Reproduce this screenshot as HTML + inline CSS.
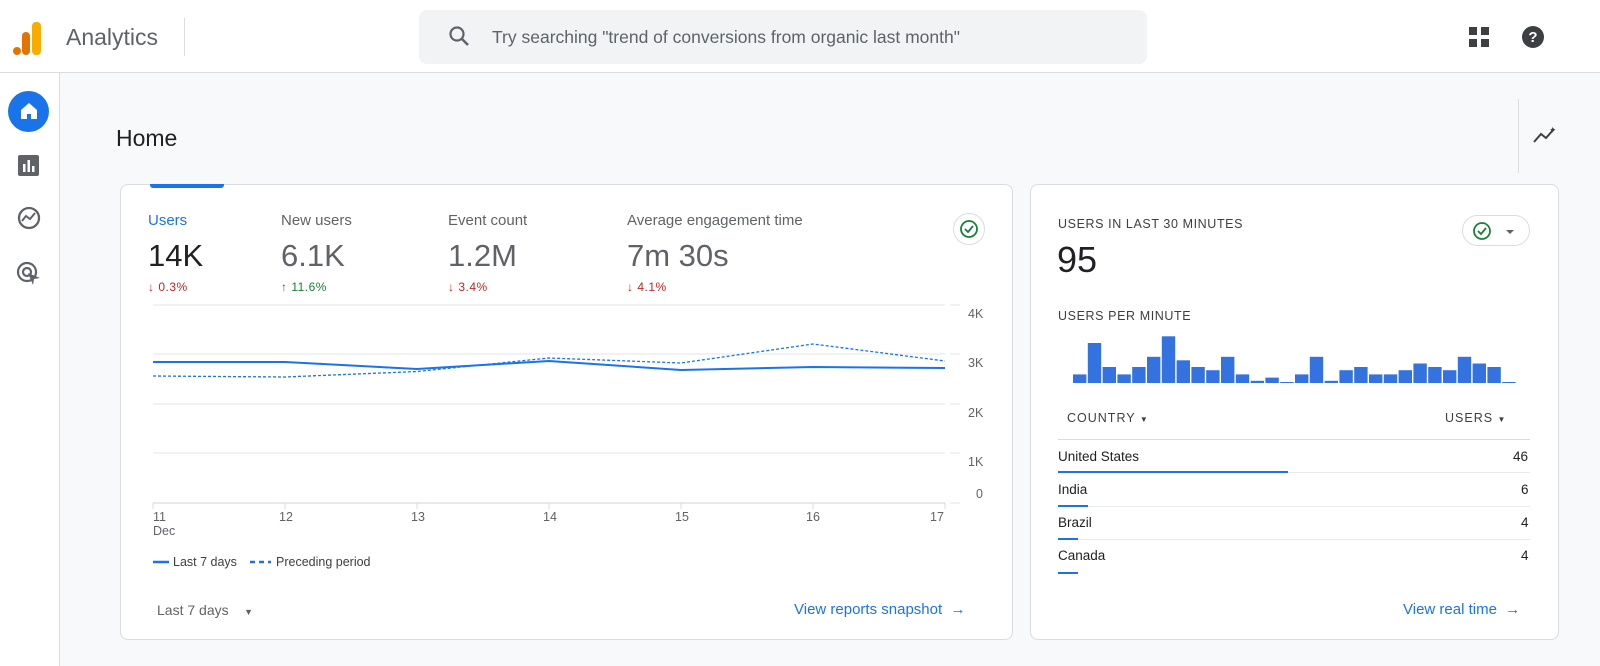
<!DOCTYPE html>
<html><head><meta charset="utf-8"><style>
*{margin:0;padding:0;box-sizing:border-box}
body{width:1600px;height:666px;overflow:hidden;background:#f8f9fa;font-family:"Liberation Sans",sans-serif;position:relative;color:#202124}
.a{position:absolute;white-space:nowrap}
.card{position:absolute;background:#fff;border:1px solid #dadce0;border-radius:8px}
.lbl{font-size:15px;color:#5f6368}
.big{font-size:31px;color:#5f6368}
.red{color:#c5221f;font-size:12px;letter-spacing:.5px}
.grn{color:#188038;font-size:12px;letter-spacing:.5px}
.cap{font-size:12.5px;color:#3c4043;letter-spacing:.6px}
.row{font-size:13.5px;color:#202124}
</style></head><body>
<div class="a" style="left:0;top:0;width:1600px;height:73px;background:#fff;border-bottom:1px solid #dadce0"></div>
<svg class="a" style="left:12px;top:18px" width="34" height="38"><rect x="20" y="4" width="9" height="33" rx="4" fill="#f9ab00"/><rect x="10" y="14" width="8" height="23" rx="4" fill="#e37400"/><circle cx="5" cy="33" r="4" fill="#e37400"/></svg>
<div class="a" style="left:66px;top:24px;font-size:23px;color:#5f6368">Analytics</div>
<div class="a" style="left:184px;top:18px;width:1px;height:38px;background:#dadce0"></div>
<div class="a" style="left:419px;top:10px;width:728px;height:54px;background:#f1f3f4;border-radius:8px"></div>
<svg class="a" style="left:448px;top:25px" width="24" height="24"><circle cx="9" cy="9" r="6.5" stroke="#5f6368" stroke-width="2.2" fill="none"/><line x1="14" y1="14" x2="20" y2="20" stroke="#5f6368" stroke-width="2.5"/></svg>
<div class="a" style="left:492px;top:27px;font-size:17.5px;color:#5f6368">Try searching "trend of conversions from organic last month"</div>
<svg class="a" style="left:1469px;top:27px" width="22" height="22" fill="#3c4043"><rect x="0" y="0" width="8" height="8"/><rect x="12" y="0" width="8" height="8"/><rect x="0" y="12" width="8" height="8"/><rect x="12" y="12" width="8" height="8"/></svg>
<svg class="a" style="left:1521px;top:25px" width="24" height="24"><circle cx="12" cy="12" r="11" fill="#3c4043"/><text x="12" y="17" font-size="15" font-weight="bold" text-anchor="middle" fill="#fff" font-family="Liberation Sans">?</text></svg>
<div class="a" style="left:0;top:73px;width:60px;height:593px;background:#fff;border-right:1px solid #dadce0"></div>
<div class="a" style="left:8px;top:91px;width:41px;height:41px;border-radius:50%;background:#1a73e8"></div>
<svg class="a" style="left:17px;top:99px" width="24" height="24"><path d="M4 11 L12 4 L20 11 V20 H14 V15 H10 V20 H4 Z" fill="#fff"/></svg>
<svg class="a" style="left:18px;top:155px" width="22" height="22"><rect x="0" y="0" width="21" height="21" rx="2" fill="#5f6368"/><rect x="5" y="9" width="2.5" height="8" fill="#fff"/><rect x="9.5" y="5" width="2.5" height="12" fill="#fff"/><rect x="14" y="11" width="2.5" height="6" fill="#fff"/></svg>
<svg class="a" style="left:16px;top:205px" width="26" height="26"><circle cx="13" cy="13" r="10" stroke="#5f6368" stroke-width="2.3" fill="none"/><path d="M6 16 L10 11 L14 14 L19 8" stroke="#5f6368" stroke-width="2" fill="none"/></svg>
<svg class="a" style="left:16px;top:261px" width="26" height="26"><circle cx="11" cy="11" r="9" stroke="#5f6368" stroke-width="2.2" fill="none"/><circle cx="11" cy="11" r="4" stroke="#5f6368" stroke-width="2.2" fill="none"/><path d="M12 12 L24 17 L18 18 L17 24 Z" fill="#5f6368"/></svg>
<div class="a" style="left:116px;top:125px;font-size:23px;color:#202124">Home</div>
<div class="a" style="left:1518px;top:99px;width:1px;height:74px;background:#dadce0"></div>
<svg class="a" style="left:1532px;top:124px" width="26" height="22"><path d="M2 18 L9 10 L14 14 L22 5" stroke="#3c4043" stroke-width="2" fill="none"/><text x="17" y="9" font-size="9" fill="#3c4043">✦</text></svg>

<div class="card" style="left:120px;top:184px;width:893px;height:456px"></div>
<div class="a" style="left:150px;top:184px;width:74px;height:4px;background:#1a73e8;border-radius:0 0 3px 3px"></div>
<div class="a lbl" style="left:148px;top:212px;color:#1a73e8">Users</div>
<div class="a big" style="left:148px;top:238px;color:#202124">14K</div>
<div class="a red" style="left:148px;top:280px">↓ 0.3%</div>
<div class="a lbl" style="left:281px;top:212px">New users</div>
<div class="a big" style="left:281px;top:238px">6.1K</div>
<div class="a grn" style="left:281px;top:280px">↑ 11.6%</div>
<div class="a lbl" style="left:448px;top:212px">Event count</div>
<div class="a big" style="left:448px;top:238px">1.2M</div>
<div class="a red" style="left:448px;top:280px">↓ 3.4%</div>
<div class="a lbl" style="left:627px;top:212px">Average engagement time</div>
<div class="a big" style="left:627px;top:238px">7m 30s</div>
<div class="a red" style="left:627px;top:280px">↓ 4.1%</div>
<svg class="a" style="left:952px;top:212px" width="34" height="34"><circle cx="17" cy="17" r="15.5" fill="#fff" stroke="#dadce0"/><circle cx="17" cy="17" r="8" fill="none" stroke="#188038" stroke-width="1.8"/><path d="M13 17 L16 20 L21 14" stroke="#188038" stroke-width="1.8" fill="none"/></svg>

<svg class="a" style="left:0;top:0" width="1600" height="666">
<g stroke="#e8eaed" stroke-width="1.2">
<line x1="153" y1="305" x2="945" y2="305"/><line x1="153" y1="354" x2="945" y2="354"/><line x1="153" y1="404" x2="945" y2="404"/><line x1="153" y1="453" x2="945" y2="453"/>
<line x1="950" y1="305" x2="960" y2="305"/><line x1="950" y1="354" x2="960" y2="354"/><line x1="950" y1="404" x2="960" y2="404"/><line x1="950" y1="453" x2="960" y2="453"/><line x1="950" y1="503" x2="960" y2="503"/>
</g>
<line x1="153" y1="503" x2="945" y2="503" stroke="#dadce0" stroke-width="1.2"/>
<g stroke="#dadce0"><line x1="153" y1="503" x2="153" y2="509"/><line x1="285" y1="503" x2="285" y2="509"/><line x1="417" y1="503" x2="417" y2="509"/><line x1="549" y1="503" x2="549" y2="509"/><line x1="681" y1="503" x2="681" y2="509"/><line x1="813" y1="503" x2="813" y2="509"/><line x1="945" y1="503" x2="945" y2="509"/></g>
<polyline points="153,376 285,377 417,371.5 549,358 681,363 813,344 945,361" fill="none" stroke="#1a73e8" stroke-width="1.3" stroke-dasharray="3,2"/>
<polyline points="153,362 285,362 417,369 549,361 681,370 813,367 945,368" fill="none" stroke="#1a73e8" stroke-width="2"/>
<g font-size="12.5" fill="#5f6368" font-family="Liberation Sans">
<text x="968" y="318">4K</text><text x="968" y="367">3K</text><text x="968" y="417">2K</text><text x="968" y="466">1K</text><text x="976" y="498">0</text>
<text x="153" y="521">11</text><text x="153" y="535">Dec</text><text x="279" y="521">12</text><text x="411" y="521">13</text><text x="543" y="521">14</text><text x="675" y="521">15</text><text x="806" y="521">16</text><text x="930" y="521">17</text>
<text x="173" y="566" fill="#3c4043">Last 7 days</text><text x="276" y="566" fill="#3c4043">Preceding period</text>
</g>
<line x1="153" y1="562" x2="169" y2="562" stroke="#1a73e8" stroke-width="2.5"/>
<line x1="250" y1="562" x2="271" y2="562" stroke="#1a73e8" stroke-width="2.5" stroke-dasharray="5,4"/>
</svg>
<div class="a" style="left:157px;top:602px;font-size:14px;color:#5f6368">Last 7 days&nbsp;&nbsp;&nbsp;&nbsp;<span style="font-size:9px">▼</span></div>
<div class="a" style="left:794px;top:601px;font-size:15px;color:#1a73e8">View reports snapshot&nbsp;&nbsp;→</div>

<div class="card" style="left:1030px;top:184px;width:529px;height:456px"></div>
<div class="a cap" style="left:1058px;top:217px">USERS IN LAST 30 MINUTES</div>
<div class="a" style="left:1057px;top:239px;font-size:36px;color:#202124">95</div>
<div class="a" style="left:1462px;top:215px;width:68px;height:31px;border:1px solid #dadce0;border-radius:16px"></div>
<svg class="a" style="left:1470px;top:219px" width="50" height="24"><circle cx="12" cy="12" r="8" fill="none" stroke="#188038" stroke-width="1.8"/><path d="M8 12 L11 15 L16 9" stroke="#188038" stroke-width="1.8" fill="none"/><path d="M36 11 L44 11 L40 15 Z" fill="#5f6368"/></svg>
<div class="a cap" style="left:1058px;top:309px">USERS PER MINUTE</div>
<svg class="a" style="left:0;top:0" width="1600" height="666" id="bars">
<g fill="#3473df" id="bg"></g>
</svg>
<div class="a cap" style="left:1067px;top:411px;letter-spacing:1px">COUNTRY <span style="font-size:8px">▼</span></div>
<div class="a cap" style="left:1445px;top:411px;letter-spacing:1px">USERS <span style="font-size:8px">▼</span></div>
<div class="a" style="left:1058px;top:439px;width:472px;height:1px;background:#dadce0"></div>
<div class="a row" style="left:1058px;top:449px">United States</div><div class="a row" style="left:1513px;top:449px">46</div>
<div class="a" style="left:1058px;top:472px;width:472px;height:1px;background:#e8eaed"></div><div class="a" style="left:1058px;top:471px;width:230px;height:2px;background:#1a73e8"></div>
<div class="a row" style="left:1058px;top:482px">India</div><div class="a row" style="left:1521px;top:482px">6</div>
<div class="a" style="left:1058px;top:506px;width:472px;height:1px;background:#e8eaed"></div><div class="a" style="left:1058px;top:505px;width:30px;height:2px;background:#1a73e8"></div>
<div class="a row" style="left:1058px;top:515px">Brazil</div><div class="a row" style="left:1521px;top:515px">4</div>
<div class="a" style="left:1058px;top:539px;width:472px;height:1px;background:#e8eaed"></div><div class="a" style="left:1058px;top:538px;width:20px;height:2px;background:#1a73e8"></div>
<div class="a row" style="left:1058px;top:548px">Canada</div><div class="a row" style="left:1521px;top:548px">4</div>
<div class="a" style="left:1058px;top:572px;width:20px;height:2px;background:#1a73e8"></div>
<div class="a" style="left:1403px;top:601px;font-size:15px;color:#1a73e8">View real time&nbsp;&nbsp;→</div>
<script>
var h=[186,88,163,186,163,131,67,142,163,173,131,186,206,196,210,186,131,206,173,163,186,186,173,152,163,173,131,152,163,210];
var s='';for(var i=0;i<h.length;i++){var hh=Math.max(1,(213-h[i])*0.32);s+='<rect x="'+(1073+i*14.8).toFixed(1)+'" y="'+(383-hh).toFixed(1)+'" width="13.4" height="'+hh.toFixed(1)+'"/>';}
document.getElementById('bg').innerHTML=s;
</script>
</body></html>
